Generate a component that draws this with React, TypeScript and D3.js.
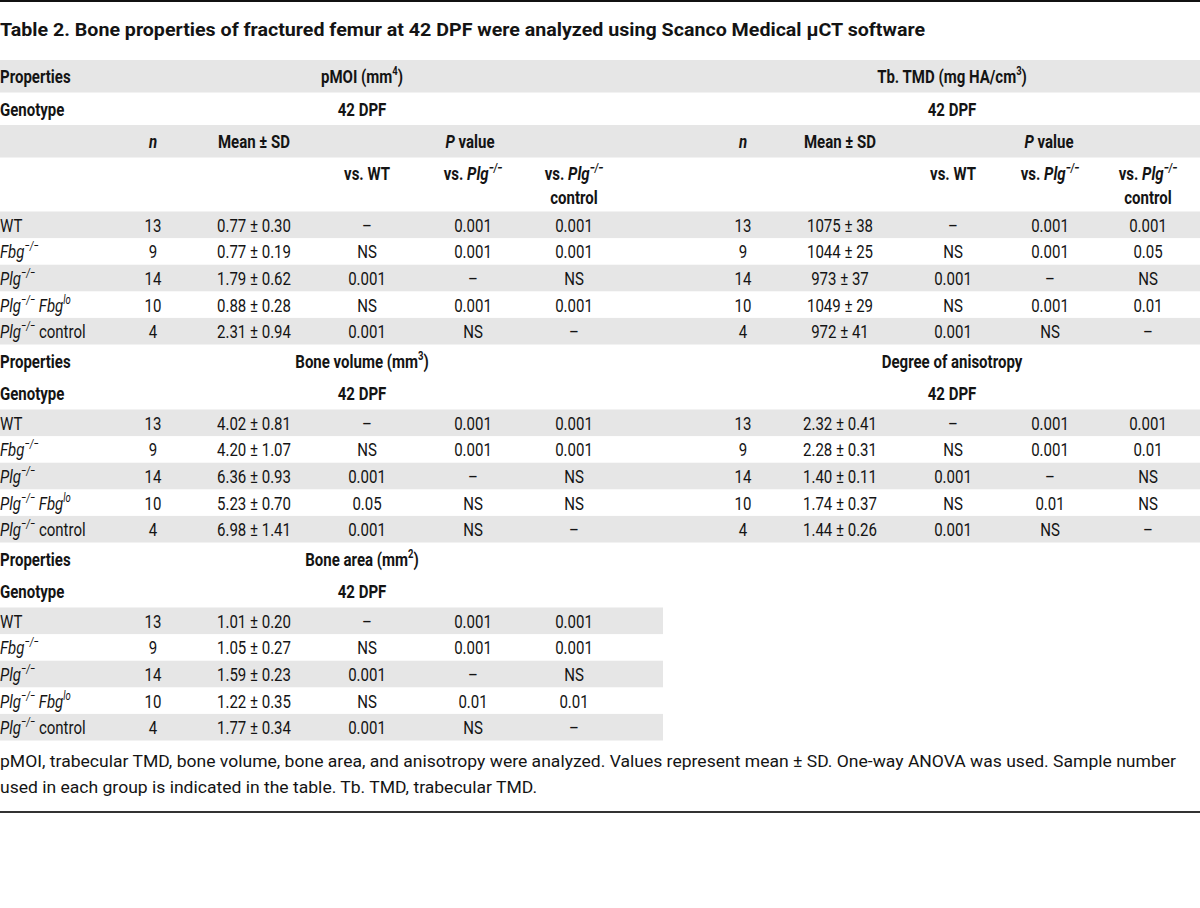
import React from "react";
import * as d3 from "d3";

const titleText = "Table 2. Bone properties of fractured femur at 42 DPF were analyzed using Scanco Medical μCT software";
const footLine1 = "pMOI, trabecular TMD, bone volume, bone area, and anisotropy were analyzed. Values represent mean ± SD. One-way ANOVA was used. Sample number";
const footLine2 = "used in each group is indicated in the table. Tb. TMD, trabecular TMD.";

const genotypes = ["WT", "Fbg", "Plg", "PlgFbg", "PlgCtrl"];
const nValues = [13, 9, 14, 10, 4];

const pmoiMean = [0.77, 0.77, 1.79, 0.88, 2.31];
const pmoiSD = [0.30, 0.19, 0.62, 0.28, 0.94];
const pmoiVsWT = ["–", "NS", "0.001", "NS", "0.001"];
const pmoiVsPlg = ["0.001", "0.001", "–", "0.001", "NS"];
const pmoiVsCtrl = ["0.001", "0.001", "NS", "0.001", "–"];

const tmdMean = [1075, 1044, 973, 1049, 972];
const tmdSD = [38, 25, 37, 29, 41];
const tmdVsWT = ["–", "NS", "0.001", "NS", "0.001"];
const tmdVsPlg = ["0.001", "0.001", "–", "0.001", "NS"];
const tmdVsCtrl = ["0.001", "0.05", "NS", "0.01", "–"];

const bvMean = [4.02, 4.20, 6.36, 5.23, 6.98];
const bvSD = [0.81, 1.07, 0.93, 0.70, 1.41];
const bvVsWT = ["–", "NS", "0.001", "0.05", "0.001"];
const bvVsPlg = ["0.001", "0.001", "–", "NS", "NS"];
const bvVsCtrl = ["0.001", "0.001", "NS", "NS", "–"];

const daMean = [2.32, 2.28, 1.40, 1.74, 1.44];
const daSD = [0.41, 0.31, 0.11, 0.37, 0.26];
const daVsWT = ["–", "NS", "0.001", "NS", "0.001"];
const daVsPlg = ["0.001", "0.001", "–", "0.01", "NS"];
const daVsCtrl = ["0.001", "0.01", "NS", "NS", "–"];

const baMean = [1.01, 1.05, 1.59, 1.22, 1.77];
const baSD = [0.20, 0.27, 0.23, 0.35, 0.34];
const baVsWT = ["–", "NS", "0.001", "NS", "0.001"];
const baVsPlg = ["0.001", "0.001", "–", "0.01", "NS"];
const baVsCtrl = ["0.001", "0.001", "NS", "0.01", "–"];

const FONT = "Roboto, 'Noto Sans', sans-serif";
const SX = 0.79;
const FS = 19;
const GRAY = "#e6e6e6";
const INK = "#141414";

const colKeys = ["n", "mean", "vsWT", "vsPlg", "vsCtrl"];
const leftCols = d3.scaleOrdinal<string, number>().domain(colKeys).range([153, 254, 367, 473, 574]);
const rightCols = d3.scaleOrdinal<string, number>().domain(colKeys).range([743, 840, 953, 1050, 1148]);

type TProps = { x: number; y: number; anchor?: string; bold?: boolean; italic?: boolean; size?: number; children: React.ReactNode };
const T = ({ x, y, anchor = "middle", bold = false, italic = false, size = FS, children }: TProps) => (
  <text
    transform={`translate(${x},${y}) scale(${SX},1)`}
    textAnchor={anchor}
    fontFamily={FONT}
    fontSize={size}
    fontWeight={bold ? 700 : 400}
    fontStyle={italic ? "italic" : "normal"}
    fill={INK}
  >
    {children}
  </text>
);

const SUP_DY = 8;
const Sup = ({ children, italic = true }: { children: React.ReactNode; italic?: boolean }) => (
  <tspan fontSize={12} dy={-SUP_DY} fontStyle={italic ? "italic" : "normal"}>{children}</tspan>
);

const genotypeLabel = (g: string) => {
  switch (g) {
    case "WT":
      return [<tspan key="a">WT</tspan>];
    case "Fbg":
      return [<tspan key="a" fontStyle="italic">Fbg</tspan>, <Sup key="b">−/−</Sup>];
    case "Plg":
      return [<tspan key="a" fontStyle="italic">Plg</tspan>, <Sup key="b">−/−</Sup>];
    case "PlgFbg":
      return [
        <tspan key="a" fontStyle="italic">Plg</tspan>,
        <Sup key="b">−/−</Sup>,
        <tspan key="c" dy={SUP_DY} fontStyle="italic"> Fbg</tspan>,
        <Sup key="d">lo</Sup>,
      ];
    default:
      return [
        <tspan key="a" fontStyle="italic">Plg</tspan>,
        <Sup key="b">−/−</Sup>,
        <tspan key="c" dy={SUP_DY}> control</tspan>,
      ];
  }
};

const HH = 32.5;
const DH = 26.6;
const VSH = 54;

type Block = { mean: number[]; sd: number[]; vsWT: string[]; vsPlg: string[]; vsCtrl: string[]; digits: number };

export default function App() {
  const els: React.ReactNode[] = [];
  let y = 60;
  let k = 0;
  const key = () => `k${k++}`;
  const mid = (top: number, h: number) => top + h / 2 + 7;

  const rowBg = (top: number, h: number, w: number) =>
    els.push(<rect key={key()} x={0} y={top} width={w} height={h} fill={GRAY} />);

  const dataRows = (blocks: Block[], cols: d3.ScaleOrdinal<string, number>[], w: number) => {
    genotypes.forEach((g, i) => {
      if (i % 2 === 0) rowBg(y, DH, w);
      const by = mid(y, DH);
      els.push(<T key={key()} x={0} y={by} anchor="start">{genotypeLabel(g)}</T>);
      blocks.forEach((b, j) => {
        const c = cols[j];
        els.push(<T key={key()} x={c("n")} y={by}>{nValues[i]}</T>);
        els.push(
          <T key={key()} x={c("mean")} y={by}>
            {`${b.mean[i].toFixed(b.digits)} ± ${b.sd[i].toFixed(b.digits)}`}
          </T>
        );
        els.push(<T key={key()} x={c("vsWT")} y={by}>{b.vsWT[i]}</T>);
        els.push(<T key={key()} x={c("vsPlg")} y={by}>{b.vsPlg[i]}</T>);
        els.push(<T key={key()} x={c("vsCtrl")} y={by}>{b.vsCtrl[i]}</T>);
      });
      y += DH;
    });
  };

  const headerCenterL = 362;
  const headerCenterR = 952;
  const pCenterL = 470;
  const pCenterR = 1049;

  // ---- Section 1
  rowBg(y, HH, 1200);
  els.push(<T key={key()} x={0} y={mid(y, HH)} anchor="start" bold>Properties</T>);
  els.push(<T key={key()} x={headerCenterL} y={mid(y, HH)} bold>pMOI (mm<Sup italic={false}>4</Sup><tspan dy={SUP_DY}>)</tspan></T>);
  els.push(<T key={key()} x={headerCenterR} y={mid(y, HH)} bold>Tb. TMD (mg HA/cm<Sup italic={false}>3</Sup><tspan dy={SUP_DY}>)</tspan></T>);
  y += HH;
  els.push(<T key={key()} x={0} y={mid(y, HH)} anchor="start" bold>Genotype</T>);
  els.push(<T key={key()} x={headerCenterL} y={mid(y, HH)} bold>42 DPF</T>);
  els.push(<T key={key()} x={headerCenterR} y={mid(y, HH)} bold>42 DPF</T>);
  y += HH;
  rowBg(y, HH, 1200);
  [leftCols, rightCols].forEach((c, j) => {
    els.push(<T key={key()} x={c("n")} y={mid(y, HH)} bold italic>n</T>);
    els.push(<T key={key()} x={c("mean")} y={mid(y, HH)} bold>Mean ± SD</T>);
    els.push(<T key={key()} x={j === 0 ? pCenterL : pCenterR} y={mid(y, HH)} bold><tspan fontStyle="italic">P</tspan> value</T>);
  });
  y += HH;
  [leftCols, rightCols].forEach((c) => {
    els.push(<T key={key()} x={c("vsWT")} y={y + 22} bold>vs. WT</T>);
    els.push(<T key={key()} x={c("vsPlg")} y={y + 22} bold>vs. <tspan fontStyle="italic">Plg</tspan><Sup>−/−</Sup></T>);
    els.push(<T key={key()} x={c("vsCtrl")} y={y + 22} bold>vs. <tspan fontStyle="italic">Plg</tspan><Sup>−/−</Sup></T>);
    els.push(<T key={key()} x={c("vsCtrl")} y={y + 46} bold>control</T>);
  });
  y += VSH;
  dataRows(
    [
      { mean: pmoiMean, sd: pmoiSD, vsWT: pmoiVsWT, vsPlg: pmoiVsPlg, vsCtrl: pmoiVsCtrl, digits: 2 },
      { mean: tmdMean, sd: tmdSD, vsWT: tmdVsWT, vsPlg: tmdVsPlg, vsCtrl: tmdVsCtrl, digits: 0 },
    ],
    [leftCols, rightCols],
    1200
  );

  // ---- Section 2
  els.push(<T key={key()} x={0} y={mid(y, HH)} anchor="start" bold>Properties</T>);
  els.push(<T key={key()} x={headerCenterL} y={mid(y, HH)} bold>Bone volume (mm<Sup italic={false}>3</Sup><tspan dy={SUP_DY}>)</tspan></T>);
  els.push(<T key={key()} x={headerCenterR} y={mid(y, HH)} bold>Degree of anisotropy</T>);
  y += HH;
  els.push(<T key={key()} x={0} y={mid(y, HH)} anchor="start" bold>Genotype</T>);
  els.push(<T key={key()} x={headerCenterL} y={mid(y, HH)} bold>42 DPF</T>);
  els.push(<T key={key()} x={headerCenterR} y={mid(y, HH)} bold>42 DPF</T>);
  y += HH;
  dataRows(
    [
      { mean: bvMean, sd: bvSD, vsWT: bvVsWT, vsPlg: bvVsPlg, vsCtrl: bvVsCtrl, digits: 2 },
      { mean: daMean, sd: daSD, vsWT: daVsWT, vsPlg: daVsPlg, vsCtrl: daVsCtrl, digits: 2 },
    ],
    [leftCols, rightCols],
    1200
  );

  // ---- Section 3
  els.push(<T key={key()} x={0} y={mid(y, HH)} anchor="start" bold>Properties</T>);
  els.push(<T key={key()} x={headerCenterL} y={mid(y, HH)} bold>Bone area (mm<Sup italic={false}>2</Sup><tspan dy={SUP_DY}>)</tspan></T>);
  y += HH;
  els.push(<T key={key()} x={0} y={mid(y, HH)} anchor="start" bold>Genotype</T>);
  els.push(<T key={key()} x={headerCenterL} y={mid(y, HH)} bold>42 DPF</T>);
  y += HH;
  dataRows(
    [{ mean: baMean, sd: baSD, vsWT: baVsWT, vsPlg: baVsPlg, vsCtrl: baVsCtrl, digits: 2 }],
    [leftCols],
    663
  );

  return (
    <svg
      width={1200}
      height={908}
      style={{ position: "absolute", left: 0, top: 0, background: "#fff" }}
    >
      <rect x={0} y={0} width={1200} height={908} fill="#fff" />
      <rect x={0} y={0} width={1200} height={2} fill="#111" />
      <text
        x={0}
        y={36}
        fontFamily={FONT}
        fontSize={19}
        fontWeight={700}
        fill={INK}
        textLength={925}
        lengthAdjust="spacingAndGlyphs"
      >
        {titleText}
      </text>
      {els}
      <text x={0} y={767} fontFamily={FONT} fontSize={17} fill={INK} textLength={1176} lengthAdjust="spacingAndGlyphs">
        {footLine1}
      </text>
      <text x={0} y={793} fontFamily={FONT} fontSize={17} fill={INK} textLength={537} lengthAdjust="spacingAndGlyphs">
        {footLine2}
      </text>
      <rect x={0} y={811} width={1200} height={2} fill="#333" />
    </svg>
  );
}
